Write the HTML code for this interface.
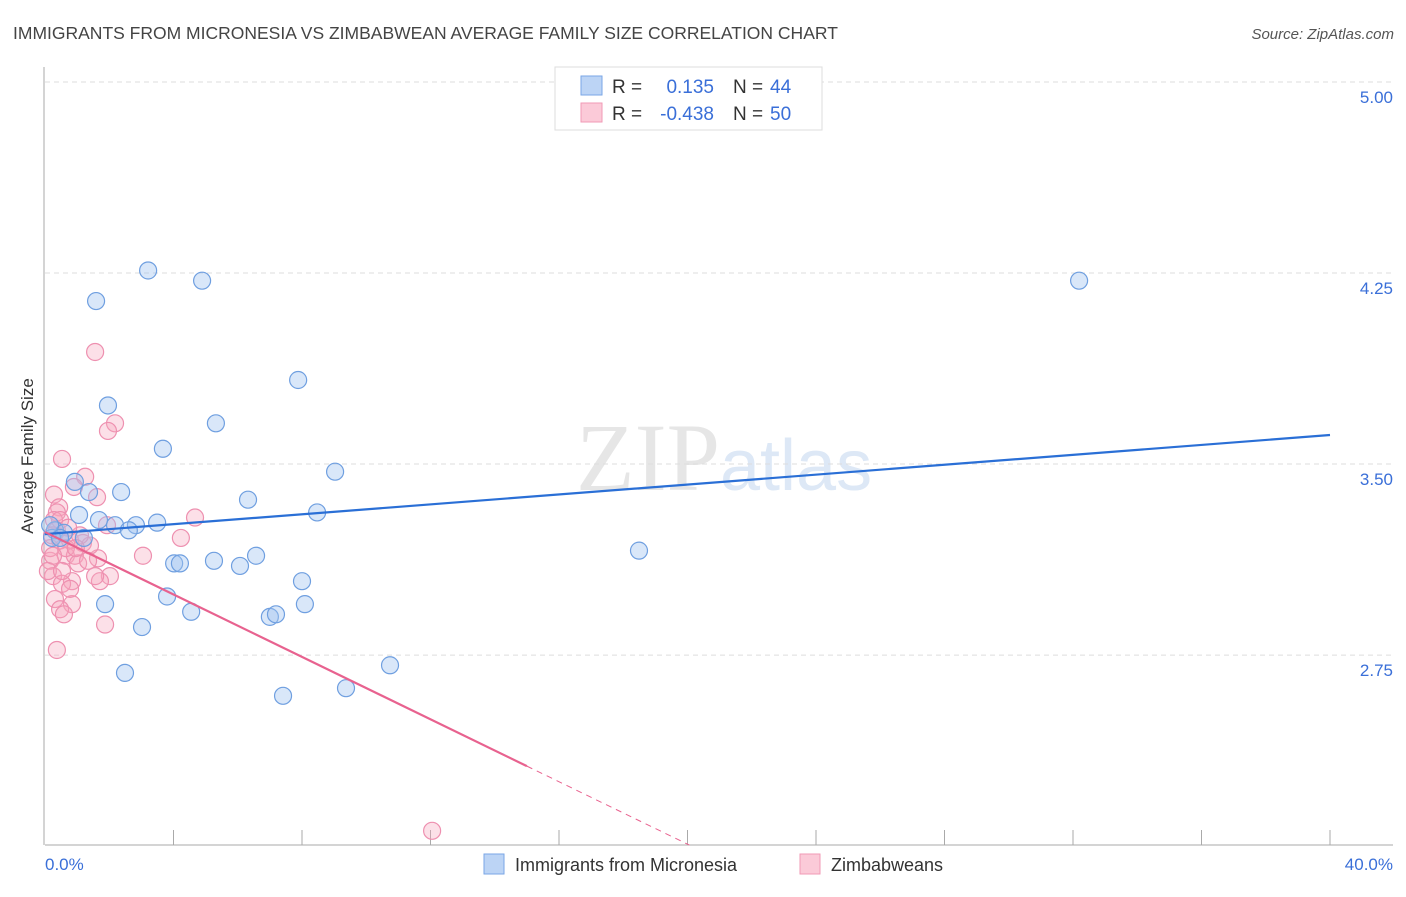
<!DOCTYPE html>
<html><head><meta charset="utf-8"><style>
body{margin:0;background:#fff;width:1406px;height:892px;overflow:hidden;font-family:"Liberation Sans",sans-serif}
</style></head><body>
<svg id="chart" width="1406" height="892" viewBox="0 0 1406 892" xmlns="http://www.w3.org/2000/svg" font-family="Liberation Sans, sans-serif">
<text x="13" y="39" font-size="17.5" fill="#444">IMMIGRANTS FROM MICRONESIA VS ZIMBABWEAN AVERAGE FAMILY SIZE CORRELATION CHART</text>
<text x="1394" y="39" font-size="15" fill="#555" font-style="italic" text-anchor="end">Source: ZipAtlas.com</text>
<text x="720" y="490" font-size="96" fill="#e6e6e6" text-anchor="end" font-family="Liberation Serif, serif">ZIP</text>
<text x="720" y="490" font-size="72" fill="#dde8f6">atlas</text>
<g id="grid"></g><g id="pink"></g><g id="blue"></g><g id="lines"></g>
<text transform="translate(33,456) rotate(-90)" font-size="17" fill="#333" text-anchor="middle">Average Family Size</text>
<text x="45" y="870" font-size="17" fill="#3a6fd8">0.0%</text>
<text x="1393" y="870" font-size="17" fill="#3a6fd8" text-anchor="end">40.0%</text>
<g>
<rect x="555" y="67" width="267" height="63" fill="#fff" stroke="#ddd"/>
<rect x="581" y="76" width="21" height="19" fill="#bcd4f5" stroke="#7aa6e6"/>
<rect x="581" y="103" width="21" height="19" fill="#fbcad8" stroke="#f09ab6"/>
<text x="612" y="93" font-size="19" fill="#333">R =</text><text x="714" y="93" font-size="19" fill="#3a6fd8" text-anchor="end">0.135</text>
<text x="733" y="93" font-size="19" fill="#333">N =</text><text x="770" y="93" font-size="19" fill="#3a6fd8">44</text>
<text x="612" y="120" font-size="19" fill="#333">R =</text><text x="714" y="120" font-size="19" fill="#3a6fd8" text-anchor="end">-0.438</text>
<text x="733" y="120" font-size="19" fill="#333">N =</text><text x="770" y="120" font-size="19" fill="#3a6fd8">50</text>
</g>
<g><rect x="484" y="854" width="20" height="20" fill="#bcd4f5" stroke="#7aa6e6"/><text x="515" y="871" font-size="18" fill="#333">Immigrants from Micronesia</text></g>
<g><rect x="800" y="854" width="20" height="20" fill="#fbcad8" stroke="#f09ab6"/><text x="831" y="871" font-size="18" fill="#333">Zimbabweans</text></g>
</svg>
<script>
const yTicks=[5.00,4.25,3.50,2.75];
const xTickCount=10;
const blueX=[3.21,4.89,1.59,32.19,7.88,1.96,5.32,3.67,9.03,6.32,2.37,0.93,1.37,8.47,1.06,1.68,2.18,2.83,3.49,2.61,0.31,0.59,1.21,0.22,18.49,6.57,5.26,4.02,4.20,6.07,8.00,3.80,1.87,8.09,4.55,7.00,7.19,3.02,10.74,2.49,9.37,7.41,0.47,0.16];
const blueY=[4.26,4.22,4.14,4.22,3.83,3.73,3.66,3.56,3.47,3.36,3.39,3.43,3.39,3.31,3.30,3.28,3.26,3.26,3.27,3.24,3.24,3.23,3.21,3.21,3.16,3.14,3.12,3.11,3.11,3.10,3.04,2.98,2.95,2.95,2.92,2.90,2.91,2.86,2.71,2.68,2.62,2.59,3.21,3.26];
const pinkX=[1.56,2.18,1.96,0.53,1.25,0.90,0.28,1.62,0.44,0.37,4.67,0.28,1.93,0.37,0.47,4.23,0.78,1.18,3.05,0.65,0.93,1.65,0.16,1.03,0.25,2.02,1.71,0.84,0.53,0.31,0.84,0.47,0.59,1.87,0.37,12.05,0.16,0.22,0.65,1.40,0.47,0.09,1.09,0.78,0.53,0.25,1.34,0.96,0.72,1.56];
const pinkY=[3.94,3.66,3.63,3.52,3.45,3.41,3.38,3.37,3.33,3.31,3.29,3.28,3.26,3.24,3.20,3.21,3.20,3.19,3.14,3.14,3.14,3.13,3.12,3.11,3.06,3.06,3.04,3.04,3.03,2.97,2.95,2.93,2.91,2.87,2.77,2.06,3.17,3.22,3.17,3.18,3.28,3.08,3.22,3.01,3.08,3.14,3.12,3.17,3.25,3.06];
const blueTrend=[3.225,3.614];
const pinkTrend=[3.233,2.314,15];
const NS='http://www.w3.org/2000/svg';
const X0=45,X1=1330,YB=845;
function sx(v){return X0+(v/40)*(X1-X0);}
function sy(v){return 82+(5-v)*254.7;}
function mk(parent,tag,attrs){const e=document.createElementNS(NS,tag);for(const k in attrs)e.setAttribute(k,attrs[k]);document.getElementById(parent).appendChild(e);return e;}
yTicks.forEach(t=>{
 const g=mk('grid','line',{x1:X0,x2:1393,y1:sy(t),y2:sy(t),stroke:'#ddd','stroke-dasharray':'5,4'});
 
 
 const l=mk('grid','text',{x:1393,y:sy(t)+21,'font-size':17,fill:'#3a6fd8','text-anchor':'end'});
 l.textContent=t.toFixed(2);
 
 
});
const ax=mk('grid','line',{x1:X0-1,x2:X0-1,y1:67,y2:YB,stroke:'#aaa'});


const bx=mk('grid','line',{x1:X0,x2:1393,y1:YB,y2:YB,stroke:'#aaa'});


for(let i=1;i<=xTickCount;i++){
 const t=mk('grid','line',{x1:sx(i*4),x2:sx(i*4),y1:YB,y2:YB-15,stroke:'#aaa'});
 
 
}
pinkX.forEach((x,i)=>{
 const c=mk('pink','circle',{cx:sx(x),cy:sy(pinkY[i]),r:8.5,fill:'rgba(245,165,190,0.35)',stroke:'#ee90b0','stroke-width':1.2});
 
 
});
blueX.forEach((x,i)=>{
 const c=mk('blue','circle',{cx:sx(x),cy:sy(blueY[i]),r:8.5,fill:'rgba(160,195,240,0.4)',stroke:'#6f9fe0','stroke-width':1.2});
 
 
});
const bl=mk('lines','line',{x1:sx(0),y1:sy(blueTrend[0]),x2:sx(40),y2:sy(blueTrend[1]),stroke:'#2a6fd6','stroke-width':2.2});


const slope=(pinkTrend[1]-pinkTrend[0])/pinkTrend[2];
const pl=mk('lines','line',{x1:sx(0),y1:sy(pinkTrend[0]),x2:sx(pinkTrend[2]),y2:sy(pinkTrend[1]),stroke:'#e8628f','stroke-width':2.2});


const xEnd=(2.004-pinkTrend[0])/slope;
const pd=mk('lines','line',{x1:sx(pinkTrend[2]),y1:sy(pinkTrend[1]),x2:sx(xEnd),y2:sy(pinkTrend[0]+slope*xEnd),stroke:'#e8628f','stroke-width':1,'stroke-dasharray':'6,5'});


</script>
</body></html>
